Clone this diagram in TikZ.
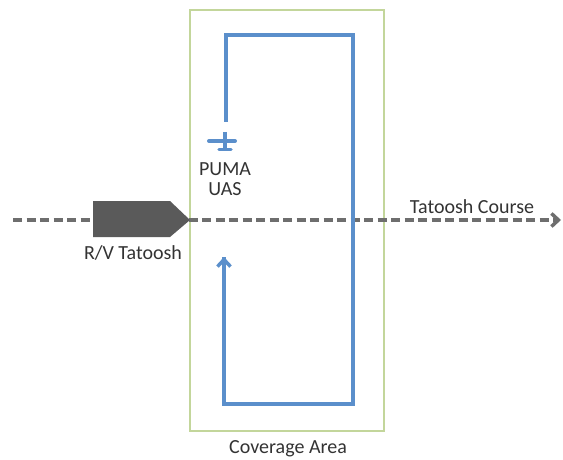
\documentclass[tikz,border=0pt]{standalone}
\usepackage{fontspec}
\setmainfont{Carlito}
\usetikzlibrary{arrows.meta}
\definecolor{areagreen}{HTML}{C3D69B}
\definecolor{pathblue}{HTML}{5B8FCB}
\definecolor{shipgray}{HTML}{5A5A5A}
\definecolor{coursegray}{HTML}{6E6E6E}
\definecolor{txtgray}{HTML}{333333}
\tikzset{
  lbl/.style={font=\fontsize{20}{22}\selectfont, text=txtgray, inner sep=0pt, anchor=center},
  area/.style={draw=areagreen, line width=2pt},
  flight/.style={draw=pathblue, line width=3.5pt, line join=miter},
  course/.style={draw=coursegray, line width=3.5pt, dash pattern=on 9pt off 4.5pt},
}
\begin{document}
\begin{tikzpicture}[x=1pt, y=-1pt]
\useasboundingbox (0,0) rectangle (563,460);
% coverage area
\draw[area] (190,10) rectangle (384,431);
% course line
\coordinate (cs) at (13,220);
\coordinate (ce) at (561,220);
\draw[course, -{Straight Barb[length=7pt, width=13pt, line width=3.5pt]}] (cs) -- (ce);
% ship
\fill[shipgray] (93,201) -- (170,201) -- (190,220) -- (170,237) -- (93,237) -- cycle;
% flight path
\coordinate (p0) at (226,122);
\coordinate (p1) at (226,35);
\coordinate (p2) at (353,35);
\coordinate (p3) at (353,404);
\coordinate (p4) at (224,404);
\coordinate (p5) at (224,257);
\draw[flight] (p0) -- (p1) -- (p2) -- (p3) -- (p4) -- (p5);
\draw[flight, -{Straight Barb[length=7pt, width=13pt, line width=3.5pt]}] (p4) -- (p5);
% plane
\draw[pathblue, line width=4pt] (225,132) -- (225,150);
\draw[pathblue, line width=4pt, line cap=round] (209,141) -- (235,141);
\draw[pathblue, line width=3.5pt, line cap=round] (219,149.5) -- (231,149.5);
% labels
\node[lbl] (puma) at (225,169) {PUMA};
\node[lbl] (uas) at (225,189) {UAS};
\node[lbl] (rv) at (133,253) {R/V Tatoosh};
\node[lbl] (tc) at (472,207) {Tatoosh Course};
\node[lbl] (cov) at (288,449) {Coverage Area};
\end{tikzpicture}
\end{document}
